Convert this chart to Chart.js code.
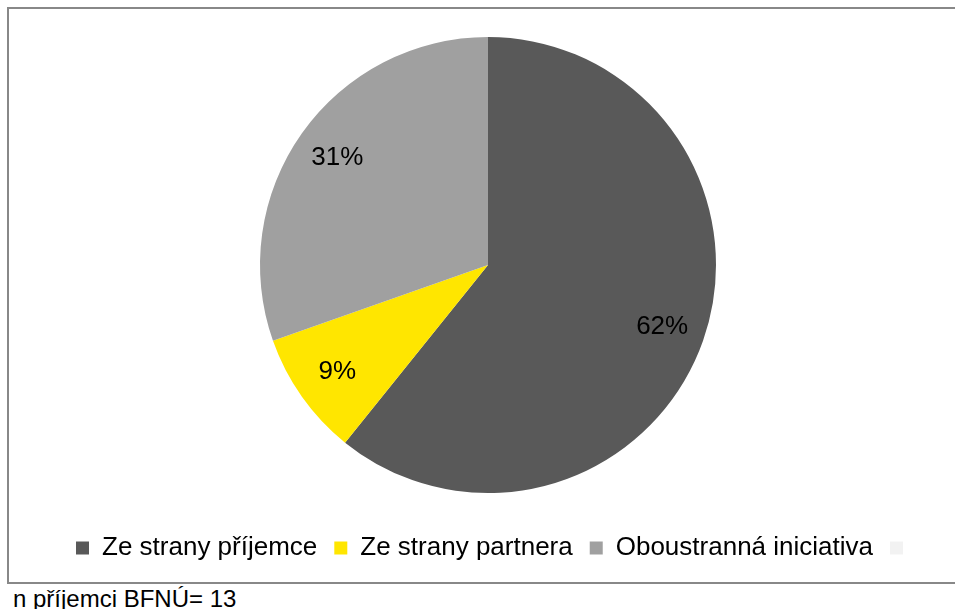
<!DOCTYPE html>
<html>
<head>
<meta charset="utf-8">
<script src="https://cdn.jsdelivr.net/npm/chart.js@4.4.1/dist/chart.umd.min.js"></script>
<style>
  html, body { margin: 0; padding: 0; background: #fff; overflow: hidden; }
  body { width: 955px; height: 609px; position: relative; font-family: "Liberation Sans", Arial, sans-serif; }
  #frame { position: absolute; left: 7px; top: 7px; width: 1000px; height: 573px; border: 2px solid #888; }
  #chart { position: absolute; left: 0; top: 0; }
  #note { position: absolute; left: 13px; top: 587px; font-size: 24px; line-height: 24px; color: #000; white-space: nowrap; }
</style>
</head>
<body>
<div id="frame"><canvas id="chart" width="958" height="573"></canvas></div>
<div id="note">n příjemci BFNÚ= 13</div>
<script>
const labels = ["Ze strany příjemce", "Ze strany partnera", "Oboustranná iniciativa", ""];
const values = [62, 9, 31, 0];
const pctLabels = ["62%", "9%", "31%", ""];
const colors = ["#595959", "#FFE600", "#A0A0A0", "#F2F2F2"];

// percentage text inside each slice
const sliceLabels = {
  id: "sliceLabels",
  afterDatasetsDraw(chart) {
    const ctx = chart.ctx;
    const arcs = chart.getDatasetMeta(0).data;
    ctx.save();
    ctx.font = "26px 'Liberation Sans', Arial, sans-serif";
    ctx.fillStyle = "#000";
    ctx.textAlign = "center";
    ctx.textBaseline = "middle";
    arcs.forEach((arc, i) => {
      if (!values[i]) return;
      const mid = (arc.startAngle + arc.endAngle) / 2;
      const r = arc.outerRadius * 0.81;
      ctx.fillText(pctLabels[i], arc.x + Math.cos(mid) * r, arc.y + Math.sin(mid) * r);
    });
    ctx.restore();
  }
};

// the empty last entry makes the legend sit a bit left, nudge it back
const legendNudge = {
  id: "legendNudge",
  afterLayout(chart) {
    chart.legend.left += 8;
    chart.legend.right += 8;
  }
};

new Chart(document.getElementById("chart"), {
  type: "pie",
  data: {
    labels: labels,
    datasets: [{
      data: values,
      backgroundColor: colors,
      borderWidth: 0,
      radius: 228
    }]
  },
  options: {
    responsive: false,
    animation: false,
    layout: { padding: { top: 3, bottom: 11 } },
    plugins: {
      tooltip: { enabled: false },
      legend: {
        position: "bottom",
        labels: {
          boxWidth: 13,
          boxHeight: 13,
          padding: 17,
          color: "#000",
          font: { family: "'Liberation Sans', Arial, sans-serif", size: 26 }
        }
      }
    }
  },
  plugins: [sliceLabels, legendNudge]
});
</script>
</body>
</html>
